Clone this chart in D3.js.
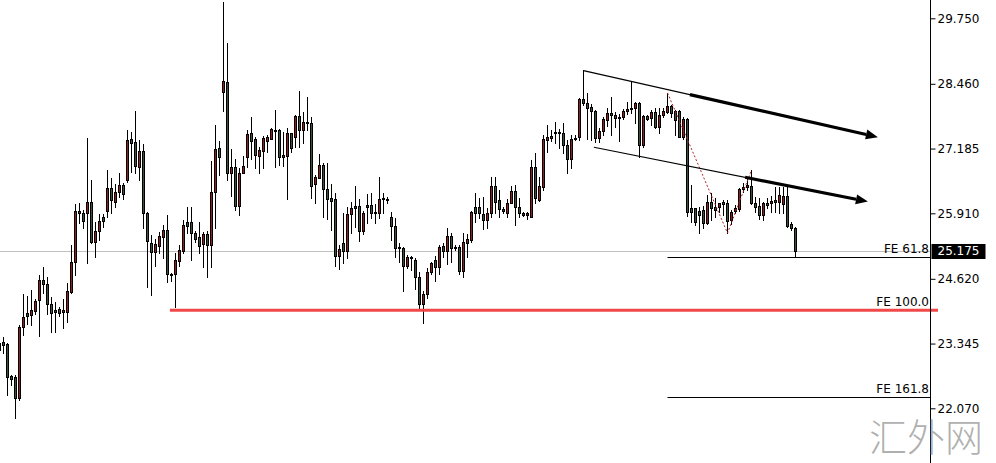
<!DOCTYPE html>
<html>
<head>
<meta charset="utf-8">
<script src="https://cdn.jsdelivr.net/npm/d3@7"></script>
<style>
  html, body { margin: 0; padding: 0; background: #ffffff; }
  svg { display: block; }
</style>
</head>
<body>
<svg id="chart" width="996" height="463"></svg>
<script>
// ---- Daily bars (first bar index is -1, one bar per slot) ----
const firstBar = -1;
const opens = [23.36,23.38,23.34,22.71,22.69,22.27,23.67,23.95,23.91,23.99,24.20,24.60,24.52,24.12,24.01,24.03,23.97,23.97,24.36,24.95,25.95,25.92,25.92,26.13,25.34,25.56,25.84,25.95,26.41,26.13,26.33,26.47,26.57,27.37,27.31,26.82,27.14,25.92,25.33,25.15,25.27,25.44,25.58,24.72,24.72,24.97,25.17,25.74,25.74,25.52,25.44,25.31,25.50,25.29,26.33,27.20,28.30,28.50,26.70,26.82,26.05,26.70,27.02,27.49,27.37,27.04,27.14,27.33,27.37,27.55,27.55,27.06,27.04,27.49,27.41,27.83,27.55,27.71,27.69,26.49,26.61,26.86,26.39,26.21,26.19,25.07,25.33,25.17,25.90,26.05,26.05,25.56,26.07,26.07,25.94,25.92,26.19,26.19,25.84,25.66,25.25,25.23,24.87,25.05,24.99,24.66,24.12,24.32,24.75,24.99,24.85,25.27,25.17,25.46,25.25,25.25,24.77,25.33,25.38,26.03,26.03,25.90,25.78,25.92,26.45,26.17,25.99,25.92,26.11,26.35,26.03,25.92,25.88,25.84,26.82,26.17,26.43,27.35,27.39,27.51,27.49,27.49,27.26,26.98,27.37,27.41,28.16,28.08,28.00,27.92,27.39,27.53,27.75,27.89,27.85,27.81,27.81,27.92,27.96,27.98,28.08,27.26,27.83,27.79,27.90,27.61,27.85,27.90,28.02,27.92,27.92,27.41,27.77,26.01,26.01,25.96,25.98,25.72,26.13,26.03,26.03,26.13,26.11,25.78,25.96,25.99,26.39,26.43,26.45,26.11,26.05,25.88,26.11,26.11,26.17,26.13,26.09,26.25,25.70,25.62];
const highs = [23.42,23.47,23.36,22.73,22.73,23.71,24.32,24.28,24.40,24.22,24.70,24.85,24.66,24.26,24.16,24.07,24.22,24.54,25.29,26.09,26.11,25.98,27.39,26.57,25.74,25.90,25.90,26.76,26.60,26.49,26.70,26.51,27.55,27.51,27.92,27.35,27.27,25.94,25.48,25.40,25.54,25.68,25.88,24.74,25.13,25.29,25.78,26.03,26.03,25.56,25.74,25.54,25.56,26.94,27.65,27.33,30.07,29.26,27.18,26.98,26.80,27.04,27.55,27.81,27.41,27.22,27.43,27.45,27.59,27.94,27.57,27.51,27.59,27.49,27.85,28.32,27.90,28.20,27.81,26.66,27.08,26.90,26.90,26.49,26.31,25.29,25.92,26.03,26.13,26.45,26.19,25.96,26.29,26.31,26.09,26.63,26.31,26.23,25.94,25.82,25.33,25.25,25.09,25.07,25.03,24.75,24.38,24.83,24.95,25.07,25.29,25.33,25.62,25.52,25.29,25.29,25.52,25.50,25.96,26.31,26.21,26.23,26.01,26.63,26.63,26.37,26.03,26.19,26.45,26.47,26.21,25.94,25.94,26.96,27.10,26.63,27.45,27.65,27.55,27.71,27.57,27.69,27.35,27.45,27.45,28.18,28.73,28.28,28.06,27.94,27.59,27.81,27.98,28.20,27.90,27.86,27.96,28.10,28.52,28.10,28.10,27.85,27.85,27.94,27.98,27.98,27.98,28.28,28.04,27.94,27.94,27.81,27.79,26.47,26.01,26.03,26.05,26.27,26.31,26.21,26.11,26.17,26.17,25.98,26.07,26.41,26.51,26.59,26.76,26.23,26.21,26.13,26.21,26.25,26.43,26.43,26.43,26.43,25.74,25.64];
const lows = [23.12,23.16,22.33,22.53,21.88,22.23,23.51,23.73,23.71,23.93,23.49,24.34,23.93,23.57,23.57,23.89,23.65,23.77,24.34,24.70,25.72,25.62,24.93,25.33,25.05,25.38,25.64,25.84,25.92,26.03,26.23,26.19,26.53,26.72,26.70,26.57,25.62,24.46,24.30,24.87,25.13,25.03,24.56,24.58,24.07,24.87,25.13,25.52,24.99,25.34,25.13,24.85,24.66,24.85,25.62,26.66,27.92,26.57,26.25,25.98,25.88,26.70,26.82,26.98,26.80,26.70,26.80,27.12,27.37,26.82,26.86,26.84,26.19,27.12,27.22,27.22,27.29,27.55,26.21,26.11,26.61,25.84,25.80,25.58,24.87,24.81,24.93,25.03,25.52,25.64,25.36,25.50,25.72,25.82,25.72,25.82,25.92,26.11,25.38,25.05,24.95,24.38,24.83,24.79,24.42,24.05,23.75,24.24,24.72,24.58,24.72,25.05,24.91,24.95,25.19,24.72,24.66,25.05,25.34,25.74,25.82,25.60,25.62,25.84,25.92,25.84,25.92,25.84,26.11,25.68,25.84,25.86,25.80,25.84,26.11,26.15,26.37,27.12,27.33,27.29,27.20,27.10,26.70,26.80,27.35,27.35,28.04,27.37,27.35,27.31,27.31,27.45,27.63,27.45,27.61,27.33,27.77,27.86,27.89,27.69,27.02,27.22,27.75,27.65,27.59,27.49,27.81,27.88,27.81,27.45,27.41,27.37,25.86,25.74,25.68,25.52,25.62,25.70,25.78,25.84,25.94,25.88,25.52,25.70,25.92,25.96,26.33,26.37,26.09,25.94,25.80,25.78,26.01,25.94,25.94,25.92,25.92,25.64,25.58,25.05];
const closes = [23.22,23.32,22.69,22.65,22.27,23.67,23.87,23.89,24.01,24.18,24.60,24.52,24.12,23.95,23.97,23.95,24.01,24.38,24.95,25.95,25.92,25.76,26.13,25.34,25.56,25.76,25.76,26.41,26.17,26.33,26.47,26.29,27.35,27.29,26.84,27.14,25.92,25.36,25.15,25.31,25.46,25.58,24.72,24.70,24.99,25.19,25.68,25.66,25.52,25.40,25.27,25.50,25.29,26.33,27.18,27.02,28.52,26.70,26.82,26.05,26.70,26.84,27.47,27.33,27.06,27.16,27.39,27.41,27.57,27.56,27.02,27.02,27.49,27.20,27.83,27.55,27.71,27.71,26.45,26.63,26.86,26.39,26.19,26.15,25.07,25.21,25.17,25.90,26.01,26.01,25.56,25.92,26.03,25.92,25.92,26.19,26.21,26.19,25.66,25.23,25.23,24.87,25.05,25.03,24.66,24.12,24.32,24.75,24.93,24.85,25.25,25.17,25.46,25.23,25.23,24.77,25.34,25.40,25.94,25.92,25.92,25.78,25.92,26.45,26.13,25.99,25.95,26.11,26.35,26.03,25.92,25.88,25.92,26.82,26.21,26.45,27.37,27.41,27.43,27.49,27.51,27.26,26.98,27.37,27.39,28.16,28.08,27.98,27.92,27.39,27.53,27.77,27.89,27.85,27.79,27.79,27.92,27.96,27.98,28.08,27.26,27.83,27.77,27.90,27.61,27.85,27.92,28.02,27.88,27.75,27.41,27.77,25.94,25.94,25.74,25.88,25.72,26.13,26.01,25.98,26.11,26.09,25.76,25.94,26.01,26.39,26.43,26.47,26.11,26.03,25.88,26.11,26.07,26.15,26.13,26.27,26.25,25.66,25.62,25.175];

// ---- Price scale ticks ----
const priceTicks = [29.750, 28.460, 27.185, 25.910, 24.620, 23.345, 22.070];
const lastPrice = 25.175;

// ---- Fibonacci expansion: A (swing high), B (swing low), C (reaction high) ----
const feA = { bar: 166, price: 28.28 };
const feB = { bar: 181, price: 25.52 };
const feC = { bar: 187, price: 26.76 };
const feRatios = [61.8, 100.0, 161.8];

// ---- Support line drawn at the FE 100 level, starting from bar ----
const supportStartBar = 41.6;

// ---- Falling channel lines: two anchors each, plus where the bold arrow begins ----
const channelLines = [
  { from: { bar: 145.0, price: 28.72 }, to: { bar: 218.6, price: 27.41 }, arrowFrom: 171.6 },
  { from: { bar: 147.6, price: 27.21 }, to: { bar: 216.1, price: 26.14 }, arrowFrom: 185.4 }
];

// ---------------------------------------------------------------
const W = 996, H = 463;
const axisX = 930.5;
const svg = d3.select("#chart");

const bars = opens.map((o, k) => ({
  i: firstBar + k, o, h: highs[k], l: lows[k], c: closes[k]
}));

const x = d3.scaleLinear().domain([0, 198]).range([3.5, 795.5]);
const y = d3.scaleLinear().domain([22.070, 29.750]).range([408.3, 18.3]);
const crisp = v => Math.round(v) + 0.5;

svg.append("rect").attr("width", W).attr("height", H).attr("fill", "#ffffff");

const plot = svg.append("g");
svg.append("defs").append("clipPath").attr("id", "plotClip")
  .append("rect").attr("x", 0).attr("y", 0).attr("width", axisX).attr("height", H);
plot.attr("clip-path", "url(#plotClip)");

// current price line (behind the bars)
plot.append("line")
  .attr("x1", 0).attr("x2", axisX)
  .attr("y1", crisp(y(lastPrice))).attr("y2", crisp(y(lastPrice)))
  .attr("stroke", "#c0c0c0").attr("stroke-width", 1);

// candles
const cg = plot.append("g");
cg.selectAll("line.wick").data(bars).join("line")
  .attr("class", "wick")
  .attr("x1", d => x(d.i)).attr("x2", d => x(d.i))
  .attr("y1", d => Math.round(y(d.h))).attr("y2", d => Math.round(y(d.l)) + 1)
  .attr("stroke", "#000").attr("stroke-width", 1);

cg.selectAll("rect.body").data(bars).join("rect")
  .attr("class", "body")
  .attr("x", d => x(d.i) - 1)
  .attr("width", 2)
  .attr("y", d => crisp(y(Math.max(d.o, d.c))))
  .attr("height", d => Math.max(1, Math.round(y(Math.min(d.o, d.c))) - Math.round(y(Math.max(d.o, d.c)))))
  .attr("fill", d => d.c >= d.o ? "#8e1f1f" : "#3e4f3e")
  .attr("stroke", "#000").attr("stroke-width", 1);

// Fibonacci expansion levels
const feRange = feA.price - feB.price;
const feLevelPrice = r => feC.price - feRange * r / 100;
const objs = svg.append("g");

feRatios.forEach(r => {
  const yy = crisp(y(feLevelPrice(r)));
  objs.append("line")
    .attr("x1", x(feA.bar)).attr("x2", axisX)
    .attr("y1", yy).attr("y2", yy)
    .attr("stroke", "#000").attr("stroke-width", 1);
});

// support line at the FE 100 level
const supY = y(feLevelPrice(100));
objs.append("line")
  .attr("x1", x(supportStartBar)).attr("x2", axisX + 7.5)
  .attr("y1", supY).attr("y2", supY)
  .attr("stroke", "#f04848").attr("stroke-width", 3);

feRatios.forEach(r => {
  const yy = Math.round(y(feLevelPrice(r)));
  objs.append("text")
    .attr("x", axisX - 1.5).attr("y", yy - 4)
    .attr("text-anchor", "end")
    .attr("font-family", "DejaVu Sans, Verdana, sans-serif")
    .attr("font-size", 12)
    .attr("fill", "#000")
    .text("FE " + r.toFixed(1));
});

// A-B-C dotted zigzag
objs.append("path")
  .attr("d", d3.line().x(p => x(p.bar)).y(p => y(p.price))([feA, feB, feC]))
  .attr("fill", "none").attr("stroke", "#b22222").attr("stroke-width", 1)
  .attr("stroke-dasharray", "2,2");

// channel lines with bold arrows
channelLines.forEach(cl => {
  const x1 = x(cl.from.bar), y1 = y(cl.from.price);
  const x2 = x(cl.to.bar), y2 = y(cl.to.price);
  const at = b => {
    const t = (b - cl.from.bar) / (cl.to.bar - cl.from.bar);
    return [x1 + (x2 - x1) * t, y1 + (y2 - y1) * t];
  };
  const ang = Math.atan2(y2 - y1, x2 - x1);
  const headLen = 12, headHalf = 5;
  const bx = x2 - headLen * Math.cos(ang), by = y2 - headLen * Math.sin(ang);

  objs.append("line")
    .attr("x1", x1).attr("y1", y1).attr("x2", bx).attr("y2", by)
    .attr("stroke", "#000").attr("stroke-width", 1.2);

  const s = at(cl.arrowFrom);
  objs.append("line")
    .attr("x1", s[0]).attr("y1", s[1]).attr("x2", bx).attr("y2", by)
    .attr("stroke", "#000").attr("stroke-width", 3.2);

  const nx = -Math.sin(ang), ny = Math.cos(ang);
  objs.append("path")
    .attr("d", `M${x2},${y2}L${bx + nx * headHalf},${by + ny * headHalf}L${bx - nx * headHalf},${by - ny * headHalf}Z`)
    .attr("fill", "#000");
});

// price axis on the right
svg.append("line")
  .attr("x1", axisX).attr("x2", axisX).attr("y1", 0).attr("y2", H)
  .attr("stroke", "#000").attr("stroke-width", 1);

const axis = d3.axisRight(y)
  .tickValues(priceTicks)
  .tickFormat(d3.format(".3f"))
  .tickSize(5)
  .tickPadding(2);

const ag = svg.append("g").attr("transform", `translate(${axisX},0)`).call(axis);
ag.select(".domain").remove();
ag.selectAll(".tick line").attr("stroke", "#000");
ag.selectAll(".tick text")
  .attr("font-family", "DejaVu Sans, Verdana, sans-serif")
  .attr("font-size", 12)
  .attr("fill", "#000");

// last price tag
const lpY = y(lastPrice);
svg.append("rect")
  .attr("x", axisX + 1).attr("y", Math.round(lpY) - 7)
  .attr("width", 54).attr("height", 15)
  .attr("fill", "#000");
svg.append("text")
  .attr("x", axisX + 7).attr("y", lpY)
  .attr("dy", "0.36em")
  .attr("font-family", "DejaVu Sans, Verdana, sans-serif")
  .attr("font-size", 12)
  .attr("fill", "#fff")
  .text(d3.format(".3f")(lastPrice));

// site mark
svg.append("text")
  .attr("x", 869).attr("y", 451)
  .attr("font-family", "Noto Sans CJK SC, sans-serif")
  .attr("font-weight", 300)
  .attr("font-size", 38)
  .attr("fill", "#9a9a9a")
  .attr("fill-opacity", 0.8)
  .text("汇外网");
</script>
</body>
</html>
